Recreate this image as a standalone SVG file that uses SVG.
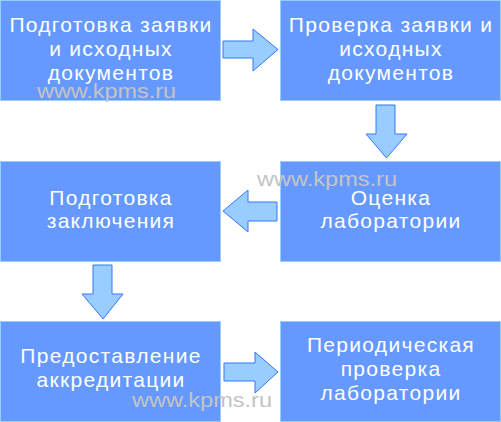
<svg xmlns="http://www.w3.org/2000/svg" width="501" height="422" viewBox="0 0 501 422">
<style>
.box{fill:#6699ff;stroke:#99ccff;stroke-width:1}
.lbl{font-family:"Liberation Sans",Arial,sans-serif;font-size:21px;fill:#ffffff;text-anchor:middle;letter-spacing:1.3px}
.arr{fill:#99ccff;stroke:#3377ff;stroke-width:1;stroke-linejoin:miter}
.wm{font-family:"Liberation Sans",Arial,sans-serif;font-size:20px;fill:#c4c4c4}
</style>
<rect width="501" height="422" fill="#ffffff"/>
<g id="connectors">
<polygon class="arr" points="223,41 253,41 253,29 278,49.5 253,71 253,58 223,58"/>
<polygon class="arr" points="376,105 395,105 395,134 407,134 386.5,158 366,134 376,134"/>
<polygon class="arr" points="277,202 248,202 248,190 223,211 248,232 248,221 277,221"/>
<polygon class="arr" points="93,265 112,265 112,294 123,294 103,319 82,294 93,294"/>
<polygon class="arr" points="224,363 255,363 255,352 278,372 255,393 255,381 224,381"/>
</g>
<g id="node1">
<rect class="box" x="0.5" y="0.5" width="220" height="100"/>
<text class="lbl" x="111" y="32">Подготовка заявки</text>
<text class="lbl" x="111" y="56">и исходных</text>
<text class="lbl" x="111" y="80">документов</text>
</g>
<g id="node2">
<rect class="box" x="280.5" y="0.5" width="220" height="100"/>
<text class="lbl" x="391" y="32">Проверка заявки и</text>
<text class="lbl" x="391" y="56">исходных</text>
<text class="lbl" x="391" y="80">документов</text>
</g>
<g id="node3">
<rect class="box" x="280.5" y="161.5" width="220" height="100"/>
<text class="lbl" x="391" y="205">Оценка</text>
<text class="lbl" x="391" y="228">лаборатории</text>
</g>
<g id="node4">
<rect class="box" x="0.5" y="161.5" width="220" height="100"/>
<text class="lbl" x="111" y="205">Подготовка</text>
<text class="lbl" x="111" y="228">заключения</text>
</g>
<g id="node5">
<rect class="box" x="0.5" y="321.5" width="220" height="100"/>
<text class="lbl" x="111" y="363">Предоставление</text>
<text class="lbl" x="111" y="387">аккредитации</text>
</g>
<g id="node6">
<rect class="box" x="280.5" y="321.5" width="220" height="100"/>
<text class="lbl" x="391" y="352">Периодическая</text>
<text class="lbl" x="391" y="376">проверка</text>
<text class="lbl" x="391" y="400">лаборатории</text>
</g>
<g id="watermarks">
<text class="wm" x="37" y="98" textLength="139" lengthAdjust="spacingAndGlyphs">www.kpms.ru</text>
<text class="wm" x="257" y="186" textLength="140" lengthAdjust="spacingAndGlyphs">www.kpms.ru</text>
<text class="wm" x="132" y="407" textLength="140" lengthAdjust="spacingAndGlyphs">www.kpms.ru</text>
</g>
</svg>
